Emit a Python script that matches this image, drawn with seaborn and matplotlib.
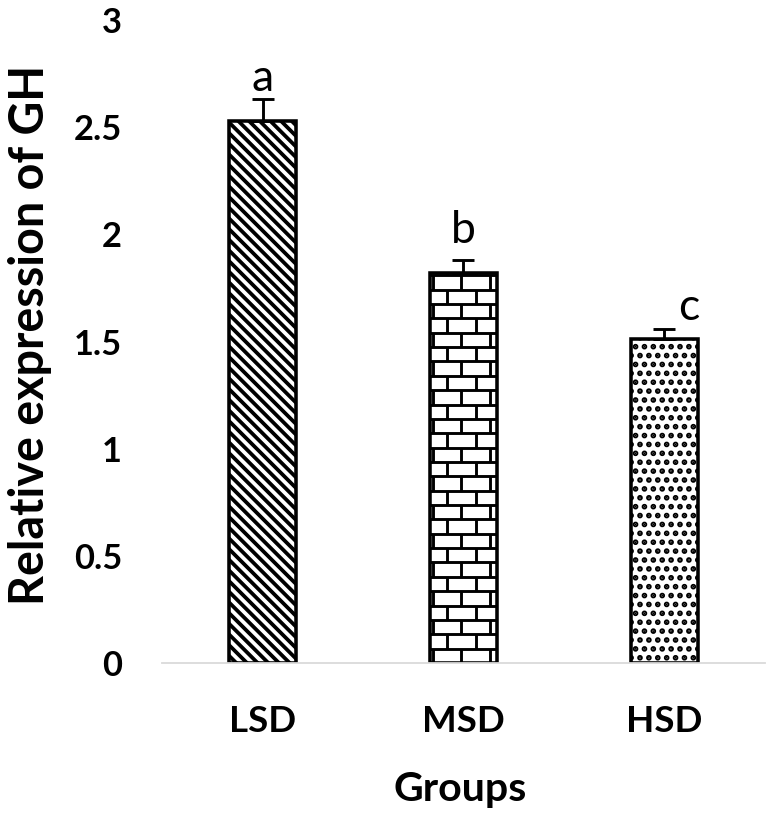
import numpy as np
import pandas as pd
import matplotlib
matplotlib.use('Agg')
import matplotlib.pyplot as plt
import seaborn as sns

# values
groups = ['LSD', 'MSD', 'HSD']
expression = [2.53, 1.82, 1.51]
sem = [0.10, 0.06, 0.05]
letters = ['a', 'b', 'c']
y_ticks = [0, 0.5, 1, 1.5, 2, 2.5, 3]
y_tick_labels = ['0', '0.5', '1', '1.5', '2', '2.5', '3']

df = pd.DataFrame({'Groups': groups, 'Expression': expression})

sns.set_style('white')
plt.rcParams['font.family'] = ['Lato', 'DejaVu Sans']
plt.rcParams['text.color'] = 'black'
plt.rcParams['axes.labelcolor'] = 'black'
plt.rcParams['xtick.color'] = 'black'
plt.rcParams['ytick.color'] = 'black'
plt.rcParams['hatch.linewidth'] = 1.7
plt.rcParams['hatch.color'] = 'black'

fig = plt.figure(figsize=(4.8, 5.13125), dpi=160)
ax = fig.add_axes([0.211, 0.1925, 0.785, 0.783])

sns.barplot(data=df, x='Groups', y='Expression', ax=ax, color='white',
            edgecolor='black', linewidth=1.6, width=0.33, errorbar=None,
            saturation=1)

bars = ax.patches
bars[0].set_hatch('\\' * 5)
bars[2].set_hatch('...')

# brick pattern for the middle bar (matplotlib has no brick hatch)
p = bars[1]
x0, w, h = p.get_x(), p.get_width(), p.get_height()
brick_h = 0.067
brick_w = 0.14
xc = x0 + w / 2
rows = np.arange(0, h, brick_h)
hl = ax.hlines(rows[1:], x0, x0 + w, color='black', lw=1.3)
hl.set_clip_path(p)
for k, y0 in enumerate(rows):
    shift = 0 if k % 2 == 0 else brick_w / 2
    xs = xc - 0.01 + shift + brick_w * np.arange(-3, 4)
    xs = xs[(xs > x0) & (xs < x0 + w)]
    vl = ax.vlines(xs, y0, min(y0 + brick_h, h), color='black', lw=1.3)
    vl.set_clip_path(p)

x = np.arange(len(groups))
ax.errorbar(x, expression, yerr=[np.zeros(len(sem)), sem], fmt='none',
            ecolor='black', elinewidth=1.3, capsize=5, capthick=1.3)

# significance letters
letter_dx = [0, 0, 0.12]
letter_gap = [0.04, 0.08, 0.04]
for i in range(len(groups)):
    ax.text(i + letter_dx[i], expression[i] + sem[i] + letter_gap[i], letters[i],
            ha='center', va='baseline', fontsize=20)

ax.set_xlim(-0.5, 2.5)
ax.set_ylim(0, 3)
ax.set_yticks(y_ticks)
ax.set_yticklabels(y_tick_labels)

sns.despine(ax=ax, left=True, top=True, right=True)
ax.spines['bottom'].set_color('#d9d9d9')
ax.spines['bottom'].set_linewidth(0.8)

ax.set_xticks(np.arange(-0.5, len(groups)), minor=True)
ax.tick_params(axis='x', which='major', length=0, pad=19, labelsize=16.5)
ax.tick_params(axis='x', which='minor', length=3.6, width=0.8,
               color='#d9d9d9', direction='out')
ax.tick_params(axis='y', which='both', length=0, pad=18, labelsize=15.5)
for lab in ax.get_xticklabels() + ax.get_yticklabels():
    lab.set_fontweight('bold')

ax.set_ylabel('Relative expression of GH', fontsize=21, fontweight='bold')
ax.yaxis.set_label_coords(-0.182, 0.51)
ax.set_xlabel('Groups', fontsize=18.5, fontweight='bold', va='top')
ax.xaxis.set_label_coords(0.494, -0.168)

fig.savefig('out.png', dpi=160)
